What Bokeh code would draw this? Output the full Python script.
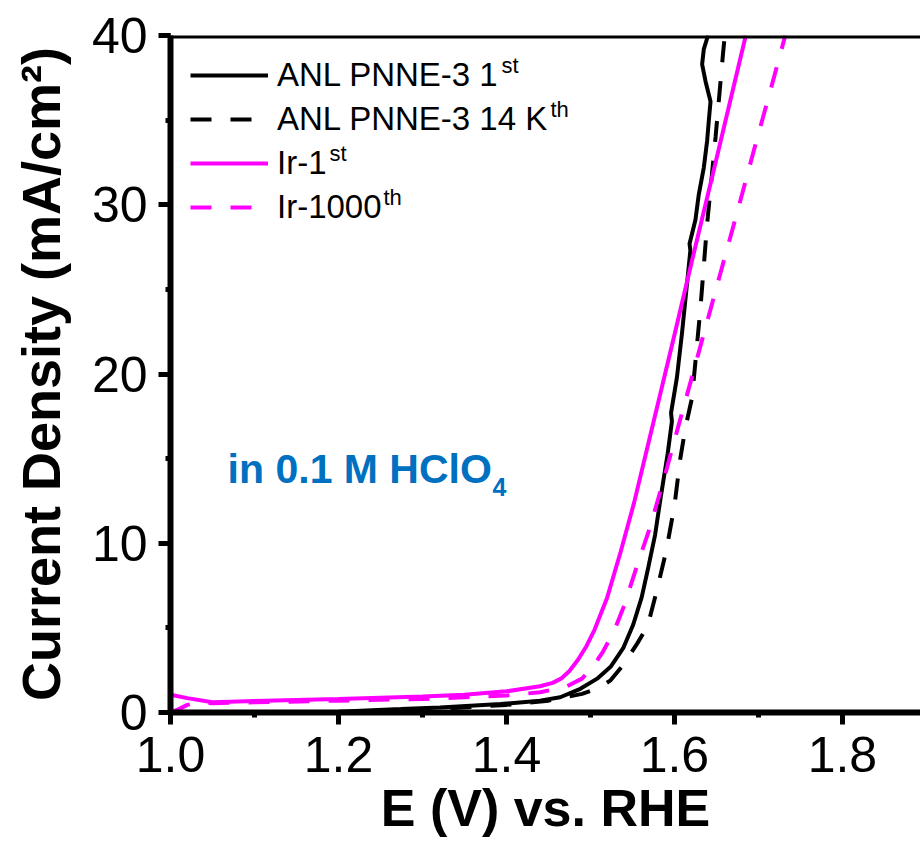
from bokeh.plotting import figure
from bokeh.models import (Range1d, SingleIntervalTicker, Label, Span, Legend,
                          LegendItem, PrintfTickFormatter)
from bokeh.embed import file_html
from bokeh.resources import INLINE

# ---------------- data ----------------
anl_1st_x = [1.000, 1.100, 1.200, 1.274, 1.321, 1.393, 1.440, 1.464, 1.488, 1.508,
             1.524, 1.539, 1.551, 1.561, 1.569, 1.577, 1.583, 1.592, 1.597, 1.596,
             1.603, 1.609, 1.619, 1.618, 1.625, 1.629, 1.635, 1.639, 1.641, 1.643,
             1.637, 1.633, 1.635, 1.640]
anl_1st_y = [0.00, 0.00, 0.05, 0.20, 0.30, 0.50, 0.70, 0.90, 1.40, 2.00,
             2.70, 3.80, 5.20, 6.80, 8.60, 10.50, 12.50, 15.30, 17.20, 17.70,
             19.80, 22.40, 27.30, 27.70, 29.10, 30.60, 32.20, 33.80, 35.00, 36.10,
             37.30, 38.30, 39.20, 40.00]

anl_14k_x = [1.000, 1.200, 1.300, 1.400, 1.450, 1.490, 1.510, 1.524, 1.539, 1.556,
             1.568, 1.578, 1.590, 1.600, 1.607, 1.613, 1.621, 1.631, 1.639, 1.649,
             1.658, 1.660]
anl_14k_y = [0.00, 0.00, 0.15, 0.45, 0.70, 1.10, 1.45, 1.90, 2.80, 4.10,
             5.10, 7.00, 9.50, 12.20, 15.00, 16.80, 18.60, 23.90, 28.90, 34.00,
             39.00, 40.00]

ir_1st_x = [1.000, 1.020, 1.050, 1.100, 1.200, 1.300, 1.350, 1.400, 1.440, 1.455,
            1.465, 1.475, 1.485, 1.495, 1.505, 1.520, 1.536, 1.552, 1.568, 1.585,
            1.600, 1.620, 1.650, 1.685]
ir_1st_y = [1.05, 0.85, 0.60, 0.68, 0.80, 0.95, 1.05, 1.25, 1.55, 1.75,
            2.00, 2.45, 3.10, 3.90, 4.90, 6.80, 9.50, 12.40, 15.70, 19.20,
            22.30, 26.50, 32.70, 40.00]

ir_1000_x = [1.000, 1.010, 1.020, 1.035, 1.050, 1.100, 1.200, 1.300, 1.400, 1.440,
             1.470, 1.490, 1.503, 1.515, 1.528, 1.540, 1.555, 1.570, 1.587, 1.604,
             1.623, 1.655, 1.675, 1.694, 1.714, 1.732]
ir_1000_y = [0.00, 0.20, 0.45, 0.60, 0.55, 0.60, 0.70, 0.80, 1.00, 1.20,
             1.50, 2.00, 2.70, 3.60, 4.80, 6.30, 8.60, 10.80, 13.70, 16.80,
             20.20, 26.00, 29.60, 33.10, 36.70, 40.00]

legend_labels = ["ANL PNNE-3 1", "ANL PNNE-3 14 K", "Ir-1", "Ir-1000"]
legend_sups = ["st", "th", "st", "th"]

x_label = "E (V) vs. RHE"
y_label = "Current Density (mA/cm\u00b2)"
note_text = "in 0.1 M HClO"
note_sub = "4"

FONT = "Liberation Sans"
MAGENTA = "#FF00FF"
BLUE = "#0070C0"

# ---------------- figure ----------------
p = figure(width=920, height=842,
           x_range=Range1d(1.0, 1.893), y_range=Range1d(0, 40),
           output_backend="svg", toolbar_location=None,
           min_border_left=170, min_border_right=0,
           min_border_top=35, min_border_bottom=130)
p.outline_line_color = None
p.grid.visible = False

r1 = p.line(anl_1st_x, anl_1st_y, line_color="black", line_width=4)
r2 = p.line(anl_14k_x, anl_14k_y, line_color="black", line_width=4, line_dash="21 19")
r3 = p.line(ir_1st_x, ir_1st_y, line_color=MAGENTA, line_width=4)
r4 = p.line(ir_1000_x, ir_1000_y, line_color=MAGENTA, line_width=4, line_dash="21 19")

# top frame line
p.add_layout(Span(location=40, dimension="width", line_color="black", line_width=6))

# axes
for ax in (p.xaxis[0], p.yaxis[0]):
    ax.axis_line_width = 6
    ax.axis_line_color = "black"
    ax.major_tick_line_width = 5
    ax.minor_tick_line_width = 5
    ax.major_tick_out = 12
    ax.major_tick_in = 0
    ax.minor_tick_out = 5
    ax.minor_tick_in = 0
    ax.major_label_text_font = FONT
    ax.major_label_text_font_size = "50px"
    ax.major_label_text_color = "black"
    ax.axis_label_text_font = FONT
    ax.axis_label_text_font_style = "bold"
    ax.axis_label_text_color = "black"

p.xaxis.ticker = SingleIntervalTicker(interval=0.2, num_minor_ticks=2)
p.xaxis.formatter = PrintfTickFormatter(format="%.1f")
p.xaxis.major_label_standoff = 12
p.xaxis.axis_label = x_label
p.xaxis.axis_label_text_font_size = "52px"
p.xaxis.axis_label_standoff = 4

p.yaxis.ticker = SingleIntervalTicker(interval=10, num_minor_ticks=2)
p.yaxis.major_label_standoff = 11
p.yaxis.axis_label = y_label
p.yaxis.axis_label_text_font_size = "54px"
p.yaxis.axis_label_standoff = 18

# legend
items = [LegendItem(label=lab, renderers=[r]) for lab, r in zip(legend_labels, [r1, r2, r3, r4])]
legend = Legend(items=items, location="top_left", margin=20, padding=0, spacing=4,
                glyph_width=78, glyph_height=40, label_height=40, label_standoff=9,
                label_text_font=FONT, label_text_font_size="33px",
                label_text_color="black",
                border_line_color=None, background_fill_alpha=0)
p.add_layout(legend)

# superscripts of legend labels (frame-relative screen coordinates)
sup_x = [331, 380, 159, 213]
sup_y = [647, 603, 559, 515]
for sx, sy, s in zip(sup_x, sup_y, legend_sups):
    p.add_layout(Label(x=sx, y=sy, x_units="screen", y_units="screen", text=s,
                       text_font=FONT, text_font_size="22px", text_color="black",
                       text_baseline="alphabetic", text_align="left"))

# electrolyte note
p.add_layout(Label(x=1.068, y=14.38, text=note_text, text_font=FONT,
                   text_font_size="41px", text_font_style="bold", text_color=BLUE,
                   text_baseline="alphabetic", text_align="left"))
p.add_layout(Label(x=1.3833, y=13.35, text=note_sub, text_font=FONT,
                   text_font_size="25px", text_font_style="bold", text_color=BLUE,
                   text_baseline="alphabetic", text_align="left"))

open("out.html", "w").write(file_html(p, INLINE))
